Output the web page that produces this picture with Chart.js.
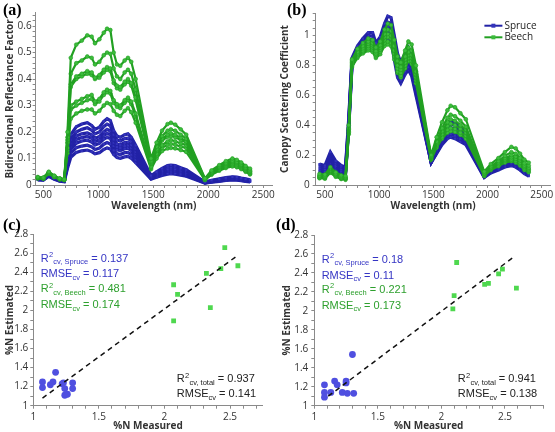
<!DOCTYPE html>
<html><head><meta charset="utf-8">
<script src="https://cdn.jsdelivr.net/npm/chart.js@4/dist/chart.umd.min.js"></script>
<style>
html,body{margin:0;padding:0;background:#fff;width:555px;height:432px;overflow:hidden;position:relative}
canvas{position:absolute}
.lbl{position:absolute;font:bold 16px "Liberation Serif",serif;color:#000;line-height:16px}
</style></head><body>
<canvas id="ca" width="280" height="216" style="left:0;top:0"></canvas>
<canvas id="cb" width="280" height="216" style="left:275px;top:0"></canvas>
<canvas id="cc" width="280" height="217" style="left:0;top:215px"></canvas>
<canvas id="cd" width="280" height="217" style="left:275px;top:215px"></canvas>
<div class="lbl" style="left:3px;top:2px">(a)</div>
<div class="lbl" style="left:287px;top:2px">(b)</div>
<div class="lbl" style="left:3px;top:217px">(c)</div>
<div class="lbl" style="left:276px;top:217px">(d)</div>
<script>
// ---------- DATA ----------
const W = [450,500,550,600,650,690,720,750,800,850,900,940,970,1010,1050,1080,1110,1140,1170,1200,1240,1270,1300,1340,1480,1530,1580,1630,1660,1700,1750,1800,1970,2030,2100,2160,2220,2260,2300,2340,2380];

// (a) Bidirectional reflectance factor
const A_SPRUCE = [
 [.025,.024,.040,.028,.020,.018,.11,.19,.22,.23,.235,.225,.21,.218,.24,.25,.243,.205,.185,.18,.19,.193,.18,.15,.035,.05,.063,.073,.075,.073,.065,.058,.011,.018,.023,.028,.031,.03,.026,.023,.02],
 [.024,.023,.038,.027,.019,.017,.10,.17,.20,.21,.216,.207,.193,.20,.22,.23,.223,.19,.17,.166,.175,.177,.166,.138,.032,.046,.058,.067,.069,.067,.06,.053,.01,.016,.021,.025,.029,.028,.024,.021,.018],
 [.023,.022,.037,.026,.018,.016,.095,.158,.185,.193,.197,.189,.176,.183,.20,.21,.204,.172,.155,.151,.16,.162,.151,.126,.03,.042,.053,.061,.063,.061,.055,.048,.0095,.015,.019,.023,.026,.025,.022,.019,.017],
 [.022,.021,.036,.025,.017,.015,.088,.146,.172,.179,.183,.176,.164,.17,.187,.195,.189,.16,.144,.14,.148,.15,.14,.117,.028,.039,.049,.057,.059,.057,.051,.045,.009,.014,.018,.021,.024,.023,.02,.018,.016],
 [.021,.02,.035,.024,.016,.014,.081,.135,.158,.166,.169,.162,.151,.157,.173,.18,.175,.148,.133,.13,.137,.139,.13,.108,.026,.036,.045,.052,.054,.052,.047,.041,.0085,.013,.017,.02,.023,.022,.019,.016,.014],
 [.02,.019,.034,.023,.015,.013,.072,.12,.141,.147,.15,.144,.134,.139,.154,.16,.155,.131,.118,.115,.122,.123,.115,.096,.024,.032,.04,.046,.048,.046,.042,.037,.008,.012,.015,.018,.021,.02,.017,.015,.013],
 [.019,.018,.033,.022,.014,.012,.063,.105,.123,.129,.132,.126,.118,.122,.134,.14,.136,.115,.104,.101,.106,.108,.101,.084,.022,.029,.036,.041,.043,.041,.037,.033,.0075,.011,.014,.017,.019,.018,.016,.014,.012]
];
const A_BEECH = [
 [.030,.028,.050,.035,.025,.022,.20,.48,.53,.545,.565,.56,.535,.55,.575,.59,.585,.50,.455,.45,.47,.48,.465,.40,.10,.16,.205,.23,.235,.228,.21,.19,.025,.055,.075,.09,.10,.095,.085,.072,.062],
 [.029,.027,.048,.034,.024,.021,.18,.42,.46,.47,.485,.48,.455,.465,.49,.50,.495,.44,.41,.40,.425,.435,.42,.36,.09,.145,.185,.205,.21,.205,.19,.175,.024,.05,.07,.083,.092,.088,.078,.066,.056],
 [.028,.026,.047,.033,.023,.021,.17,.38,.41,.42,.43,.425,.405,.415,.435,.445,.44,.395,.375,.37,.39,.40,.385,.33,.085,.135,.175,.19,.195,.19,.178,.165,.023,.048,.067,.08,.088,.084,.075,.063,.052],
 [.027,.026,.046,.032,.023,.02,.16,.37,.40,.41,.42,.415,.40,.405,.425,.435,.43,.385,.365,.36,.38,.39,.375,.32,.08,.13,.168,.182,.185,.18,.17,.16,.022,.046,.065,.077,.085,.081,.072,.06,.05],
 [.026,.025,.045,.031,.022,.02,.14,.30,.315,.325,.335,.34,.315,.325,.35,.36,.355,.32,.305,.30,.32,.33,.315,.27,.07,.118,.15,.165,.17,.165,.157,.15,.021,.043,.06,.072,.08,.076,.068,.056,.046],
 [.026,.025,.044,.031,.022,.019,.13,.285,.30,.31,.32,.325,.305,.315,.34,.35,.345,.31,.295,.29,.31,.32,.305,.26,.065,.11,.14,.152,.155,.152,.145,.14,.02,.041,.057,.068,.075,.071,.064,.053,.043],
 [.025,.024,.043,.03,.021,.019,.12,.25,.27,.28,.285,.285,.27,.28,.30,.31,.305,.28,.265,.26,.28,.29,.275,.235,.06,.10,.128,.138,.14,.138,.132,.125,.019,.039,.054,.064,.07,.067,.06,.05,.04]
];

// (b) Canopy scattering coefficient
const B_SPRUCE = [
 [.14,.13,.22,.16,.13,.12,.45,.85,.93,.98,1.02,1.02,.95,.99,1.08,1.13,1.12,1.0,.88,.82,.88,.92,.88,.72,.16,.24,.33,.41,.43,.42,.39,.35,.07,.11,.14,.17,.19,.18,.155,.125,.10],
 [.13,.12,.20,.145,.12,.11,.43,.84,.92,.96,1.0,.995,.93,.97,1.05,1.09,1.08,.96,.84,.79,.85,.88,.84,.69,.16,.235,.315,.39,.41,.40,.37,.33,.065,.10,.13,.16,.175,.165,.145,.115,.09],
 [.115,.105,.185,.13,.105,.095,.41,.83,.90,.94,.98,.97,.91,.95,1.02,1.06,1.05,.93,.81,.76,.82,.85,.81,.66,.155,.23,.30,.37,.385,.375,.35,.31,.06,.095,.12,.15,.16,.15,.13,.10,.08],
 [.10,.095,.17,.12,.095,.085,.40,.82,.89,.92,.96,.95,.90,.93,.99,1.03,1.02,.90,.78,.73,.79,.82,.78,.64,.15,.22,.29,.35,.36,.35,.33,.30,.055,.09,.11,.14,.15,.14,.12,.095,.07],
 [.09,.085,.15,.11,.085,.078,.39,.81,.88,.91,.945,.935,.885,.915,.97,1.0,.99,.87,.75,.70,.76,.79,.75,.62,.15,.215,.28,.33,.34,.33,.31,.285,.052,.085,.105,.13,.14,.13,.11,.085,.065],
 [.08,.075,.13,.10,.08,.07,.38,.80,.87,.90,.93,.92,.87,.90,.95,.97,.96,.84,.72,.68,.74,.77,.73,.60,.15,.21,.27,.31,.32,.31,.29,.27,.05,.08,.10,.12,.13,.12,.10,.075,.06]
];
const B_BEECH = [
 [.075,.07,.12,.085,.065,.06,.40,.84,.91,.95,.98,.97,.92,.96,1.04,1.08,1.07,.97,.86,.82,.90,.96,.94,.80,.20,.32,.42,.50,.53,.52,.48,.44,.09,.14,.18,.22,.255,.245,.21,.17,.15],
 [.065,.06,.11,.075,.058,.052,.38,.83,.89,.93,.96,.95,.895,.935,1.01,1.04,1.03,.93,.83,.79,.86,.92,.90,.76,.19,.29,.38,.45,.47,.46,.43,.39,.08,.125,.16,.195,.22,.21,.18,.145,.13],
 [.06,.055,.10,.07,.052,.047,.37,.82,.88,.915,.945,.935,.88,.92,.99,1.01,1.0,.90,.80,.77,.84,.89,.87,.74,.185,.28,.36,.42,.44,.43,.40,.37,.075,.115,.15,.18,.20,.19,.165,.13,.115],
 [.055,.05,.095,.065,.048,.043,.36,.81,.87,.90,.93,.92,.87,.905,.97,.99,.98,.88,.78,.75,.82,.87,.85,.72,.18,.27,.34,.395,.41,.40,.375,.35,.07,.11,.14,.17,.185,.175,.15,.12,.105],
 [.05,.047,.09,.06,.044,.04,.35,.80,.86,.89,.915,.905,.86,.89,.95,.96,.95,.86,.76,.73,.80,.85,.83,.70,.175,.26,.32,.37,.38,.375,.35,.33,.065,.105,.13,.16,.17,.16,.14,.11,.095],
 [.045,.042,.082,.055,.04,.035,.34,.79,.85,.88,.90,.89,.85,.875,.93,.94,.93,.84,.75,.72,.78,.83,.81,.68,.17,.25,.31,.35,.36,.355,.335,.31,.06,.10,.125,.15,.16,.15,.13,.10,.085]
];

// (c) and (d) %N measured vs estimated
const C_SPRUCE_X = [1.07,1.07,1.13,1.15,1.17,1.22,1.23,1.24,1.24,1.26,1.30,1.30];
const C_SPRUCE_Y = [1.25,1.19,1.22,1.25,1.35,1.23,1.24,1.18,1.11,1.12,1.24,1.18];
const C_BEECH_X = [2.07,2.10,2.07,2.32,2.35,2.43,2.46,2.56];
const C_BEECH_Y = [2.27,2.17,1.89,2.39,2.03,2.44,2.66,2.47];
const C_FIT_X = [1.07,2.55];
const C_FIT_Y = [1.08,2.57];
const D_SPRUCE_X = [1.08,1.08,1.08,1.13,1.16,1.18,1.22,1.25,1.25,1.26,1.30,1.31];
const D_SPRUCE_Y = [1.22,1.14,1.09,1.14,1.26,1.22,1.14,1.26,1.24,1.13,1.54,1.13];
const D_BEECH_X = [2.09,2.10,2.12,2.34,2.37,2.45,2.48,2.59];
const D_BEECH_Y = [2.02,2.16,2.51,2.28,2.29,2.39,2.44,2.24];
const D_FIT_X = [1.11,2.57];
const D_FIT_Y = [1.10,2.57];

const C_STATS = ['0.137','0.117','0.481','0.174','0.937','0.141'];
const D_STATS = ['0.18','0.11','0.221','0.173','0.941','0.138'];

// tick labels
const WL_TICKS = ['500','1000','1500','2000','2500'];
const A_YTICKS = ['0','0.1','0.2','0.3','0.4','0.5','0.6'];
const B_YTICKS = ['0','0.2','0.4','0.6','0.8','1'];
const N_XTICKS = ['1','1.5','2','2.5'];
const N_YTICKS = ['1','1.2','1.4','1.6','1.8','2','2.2','2.4','2.6','2.8'];

// ---------- STYLE ----------
const TICK_FONT = '"Open Sans", "DejaVu Sans", sans-serif';
const TITLE_FONT = '"Open Sans", "DejaVu Sans", sans-serif';
const TEXT_FONT = '"Liberation Sans", Arial, sans-serif';
const AXIS_C = '#8a8a8a', TICK_C = '#333', TITLE_C = '#333';
const BLUE_LINE = '#2222a6', BLUE_PT = '#3333bb', GREEN_LINE = '#22a022', GREEN_PT = '#3cbc3c';
const BLUE_DOT = '#4f4fe0', GREEN_SQ = '#4fd84f', BLUE_TXT = '#3535c4', GREEN_TXT = '#2ea02e';

function minorTicks(lo, hi, step){
  const out=[]; const n=Math.round((hi-lo)/step);
  for(let i=0;i<=n;i++) out.push(Math.round((lo+i*step)*1e6)/1e6);
  return out;
}
function scale(o){
  const majors = o.labels.map(Number);
  return {
    type:'linear', min:o.min, max:o.max,
    afterBuildTicks: s => { s.ticks = o.minor.map(v=>({value:v})); },
    afterFit: s => { if(o.w!=null) s.width=o.w; if(o.h!=null) s.height=o.h; },
    ticks:{autoSkip:false, maxRotation:0, minRotation:0, padding:o.tp, color:TICK_C,
      font:{family:TICK_FONT,size:10},
      callback:(v)=>{ const k=majors.findIndex(m=>Math.abs(m-v)<1e-6); return k>=0?o.labels[k]:''; }},
    grid:{display:true, drawOnChartArea:false, drawTicks:true, tickLength:3, color:AXIS_C},
    border:{display:true, color:AXIS_C, width:1},
    title:{display:true, text:o.title, color:TITLE_C, font:{family:TITLE_FONT,size:10,weight:'bold'}, padding:o.titlePad}
  };
}
function specSets(spruce, beech){
  const sets=[];
  spruce.forEach((c,i)=>sets.push({label:'Spruce', data:W.map((w,k)=>({x:w,y:c[k]})), showLine:true,
    borderColor:BLUE_LINE, borderWidth:3.2, pointStyle:'rect', pointRadius:1.6, pointBackgroundColor:BLUE_PT,
    pointBorderWidth:0, order:1}));
  beech.forEach((c,i)=>sets.push({label:'Beech', data:W.map((w,k)=>({x:w,y:c[k]})), showLine:true,
    borderColor:GREEN_LINE, borderWidth:2.2, pointStyle:'circle', pointRadius:1.9, pointBackgroundColor:GREEN_PT,
    pointBorderColor:GREEN_LINE, pointBorderWidth:0.6, order:0}));
  return sets;
}
const base = {responsive:false, animation:false, devicePixelRatio:1, events:[],
  plugins:{legend:{display:false}, tooltip:{enabled:false}}};

// legend plugin for (b)
const legendPlugin = {id:'lg', afterDraw(chart){
  const ctx=chart.ctx, a=chart.chartArea;
  const items=[['Spruce',BLUE_LINE,BLUE_PT],['Beech',GREEN_LINE,GREEN_PT]];
  items.forEach((it,i)=>{
    const y=a.top+12.6+i*11.6, x0=a.right-66, x1=a.right-48;
    ctx.save();
    ctx.strokeStyle=it[1]; ctx.lineWidth=2; ctx.beginPath(); ctx.moveTo(x0,y); ctx.lineTo(x1,y); ctx.stroke();
    ctx.fillStyle=it[2]; ctx.fillRect((x0+x1)/2-2,y-2,4,4);
    ctx.fillStyle='#222'; ctx.font='10px '+TICK_FONT; ctx.textBaseline='middle'; ctx.textAlign='left';
    ctx.fillText(it[0], x1+2, y);
    ctx.restore();
  });
}};

// rich text annotations for scatter panels
function statPlugin(stats, pos){
  return {id:'st', afterDraw(chart){
    const ctx=chart.ctx, xs=chart.scales.x, ys=chart.scales.y;
    const lines=[
      [BLUE_TXT,'cv, Spruce',true,stats[0],pos.l.x,pos.l.y[0]],
      [BLUE_TXT,'cv',false,stats[1],pos.l.x,pos.l.y[1]],
      [GREEN_TXT,'cv, Beech',true,stats[2],pos.l.x,pos.l.y[2]],
      [GREEN_TXT,'cv',false,stats[3],pos.l.x,pos.l.y[3]],
      ['#222','cv, total',true,stats[4],pos.r.x,pos.r.y[0]],
      ['#222','cv',false,stats[5],pos.r.x,pos.r.y[1]]];
    lines.forEach(L=>{
      const x=xs.getPixelForValue(L[4]); const y=ys.getPixelForValue(L[5])+4;
      ctx.save(); ctx.fillStyle=L[0]; ctx.textBaseline='alphabetic'; ctx.textAlign='left';
      let cx=x;
      const main='11px '+TEXT_FONT, small='7.5px '+TEXT_FONT;
      ctx.font=main; const head=L[2]?'R':'RMSE'; ctx.fillText(head,cx,y); cx+=ctx.measureText(head).width;
      if(L[2]){ ctx.font=small; ctx.fillText('2',cx+0.3,y-4.5); cx+=ctx.measureText('2').width+0.6; }
      ctx.font=small; ctx.fillText(L[1],cx,y+2.5); cx+=ctx.measureText(L[1]).width;
      ctx.font=main; ctx.fillText(' = '+L[3],cx,y);
      ctx.restore();
    });
  }};
}

// ---------- (a) ----------
new Chart(document.getElementById('ca'), {type:'scatter',
  data:{datasets:specSets(A_SPRUCE, A_BEECH)},
  options:Object.assign({}, base, {layout:{padding:{left:0,right:8,top:12.8,bottom:0}},
    scales:{
      x:scale({min:430,max:2580,labels:WL_TICKS,minor:minorTicks(500,2500,100),h:31,tp:1,title:'Wavelength (nm)',titlePad:{top:0,bottom:4}}),
      y:scale({min:0,max:0.65,labels:A_YTICKS,minor:minorTicks(0,0.64,0.02),w:35.6,tp:1,title:'Bidirectional Reflectance Factor',titlePad:{top:4,bottom:0}})
    }})
});

// ---------- (b) ----------
new Chart(document.getElementById('cb'), {type:'scatter',
  data:{datasets:specSets(B_SPRUCE, B_BEECH)},
  options:Object.assign({}, base, {layout:{padding:{left:0,right:2,top:13.1,bottom:0}},
    scales:{
      x:scale({min:415,max:2580,labels:WL_TICKS,minor:minorTicks(500,2500,100),h:31,tp:1,title:'Wavelength (nm)',titlePad:{top:0,bottom:4}}),
      y:scale({min:0,max:1.15,labels:B_YTICKS,minor:minorTicks(0,1.15,0.05),w:40.7,tp:3,title:'Canopy Scattering Coefficient',titlePad:{top:4,bottom:0}})
    }}),
  plugins:[legendPlugin]
});

// ---------- (c), (d) ----------
function nSets(sx,sy,bx,by,fx,fy){
  return [
    {label:'fit', type:'line', data:fx.map((x,i)=>({x,y:fy[i]})), borderColor:'#111', borderWidth:1.5, borderDash:[5,4], pointRadius:0, fill:false, order:0},
    {label:'Spruce', data:sx.map((x,i)=>({x,y:sy[i]})), pointStyle:'circle', pointRadius:3.4, pointBackgroundColor:BLUE_DOT, pointBorderWidth:0, order:1},
    {label:'Beech', data:bx.map((x,i)=>({x,y:by[i]})), pointStyle:'rect', pointRadius:3.4, pointBackgroundColor:GREEN_SQ, pointBorderWidth:0, order:1}
  ];
}
new Chart(document.getElementById('cc'), {type:'scatter',
  data:{datasets:nSets(C_SPRUCE_X,C_SPRUCE_Y,C_BEECH_X,C_BEECH_Y,C_FIT_X,C_FIT_Y)},
  options:Object.assign({}, base, {layout:{padding:{left:0,right:17.2,top:19.3,bottom:0}},
    scales:{
      x:scale({min:1,max:2.75,labels:N_XTICKS,minor:minorTicks(1,2.7,0.1),h:26.3,tp:2,title:'%N Measured',titlePad:{top:0,bottom:0}}),
      y:scale({min:1,max:2.8,labels:N_YTICKS,minor:minorTicks(1,2.8,0.1),w:33.3,tp:2,title:'%N Estimated',titlePad:{top:4,bottom:0}})
    }}),
  plugins:[statPlugin(C_STATS,{l:{x:1.056,y:[2.555,2.39,2.232,2.064]}, r:{x:2.094,y:[1.287,1.13]}})]
});
new Chart(document.getElementById('cd'), {type:'scatter',
  data:{datasets:nSets(D_SPRUCE_X,D_SPRUCE_Y,D_BEECH_X,D_BEECH_Y,D_FIT_X,D_FIT_Y)},
  options:Object.assign({}, base, {layout:{padding:{left:0,right:11.9,top:20,bottom:0}},
    scales:{
      x:scale({min:1,max:2.8,labels:N_XTICKS,minor:minorTicks(1,2.8,0.1),h:26.3,tp:2,title:'%N Measured',titlePad:{top:0,bottom:0}}),
      y:scale({min:1,max:2.8,labels:N_YTICKS,minor:minorTicks(1,2.8,0.1),w:39.3,tp:3,title:'%N Estimated',titlePad:{top:5.7,bottom:0}})
    }}),
  plugins:[statPlugin(D_STATS,{l:{x:1.058,y:[2.548,2.38,2.232,2.064]}, r:{x:2.129,y:[1.287,1.13]}})]
});
</script>
</body></html>
